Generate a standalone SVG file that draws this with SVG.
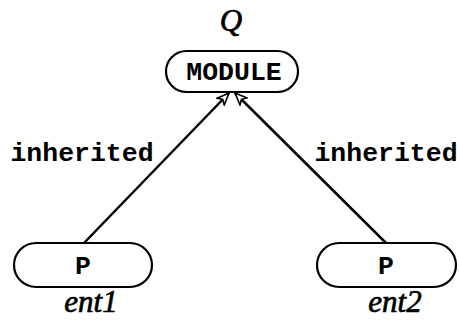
<svg xmlns="http://www.w3.org/2000/svg" width="459" height="320" viewBox="0 0 459 320">
<style>
.box{fill:#fff;stroke:#000;stroke-width:2.2}
.tt{font-family:"Liberation Mono","DejaVu Sans Mono",monospace;font-weight:bold;font-size:26.5px;text-anchor:middle;fill:#000}
.it{font-family:"Liberation Serif","DejaVu Serif",serif;font-style:italic;font-size:31px;text-anchor:middle;fill:#000;stroke:#000;stroke-width:0.7}
.edge{stroke:#000;stroke-width:2.5;fill:none}
</style>
<defs>
<marker id="ah" viewBox="0 0 14 12" refX="13" refY="6" markerWidth="14" markerHeight="12" markerUnits="userSpaceOnUse" orient="auto">
<path d="M1,1 L13,6 L1,11 L4,6 Z" fill="#fff" stroke="#000" stroke-width="1.6"/>
</marker>
</defs>
<g id="connectors">
<line class="edge" x1="84" y1="243" x2="229" y2="93" marker-end="url(#ah)"/>
<line class="edge" x1="386" y1="243" x2="235" y2="93" marker-end="url(#ah)"/>
<text class="tt" x="82" y="161">inherited</text>
<text class="tt" x="386" y="161">inherited</text>
</g>
<g id="module">
<text class="it" x="231" y="31">Q</text>
<rect class="box" x="166" y="51" width="132" height="41" rx="20.5"/>
<text class="tt" x="234" y="80">MODULE</text>
</g>
<g id="ent1">
<rect class="box" x="14" y="243" width="138" height="44" rx="22"/>
<text class="tt" x="83" y="274">P</text>
<text class="it" x="91" y="312">ent1</text>
</g>
<g id="ent2">
<rect class="box" x="317" y="243" width="139" height="44" rx="22"/>
<text class="tt" x="386" y="274">P</text>
<text class="it" x="395" y="312">ent2</text>
</g>
</svg>
